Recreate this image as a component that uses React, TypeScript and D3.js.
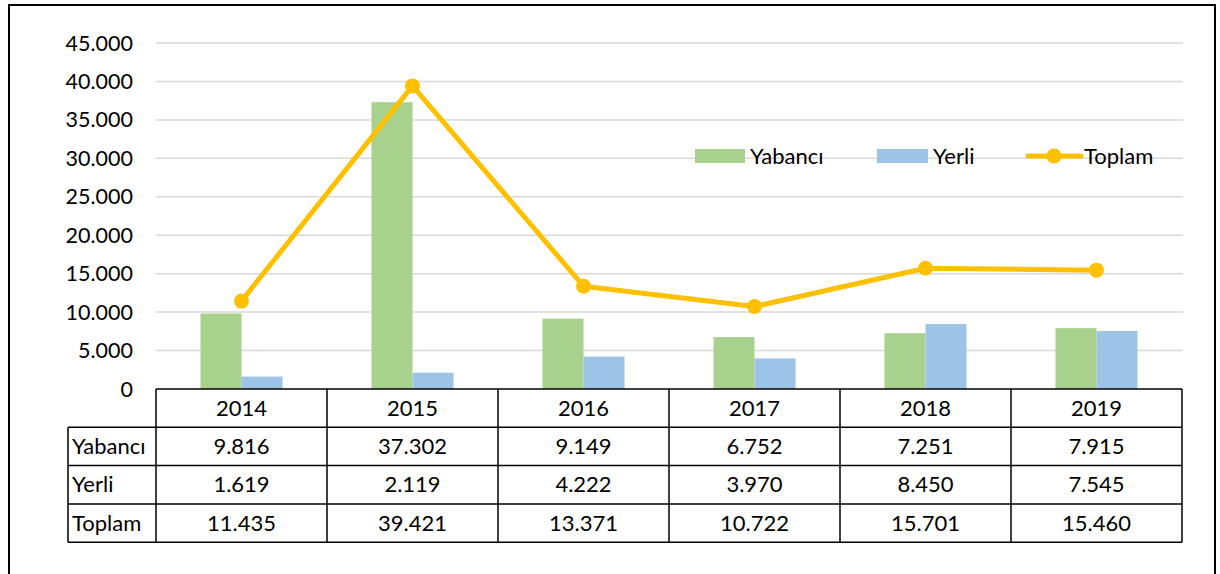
import { useEffect, useRef } from "react";
import * as d3 from "d3";

const YEARS = ["2014", "2015", "2016", "2017", "2018", "2019"];
const YABANCI = [9816, 37302, 9149, 6752, 7251, 7915];
const YERLI = [1619, 2119, 4222, 3970, 8450, 7545];
const TOPLAM = [11435, 39421, 13371, 10722, 15701, 15460];
const Y_TICKS = [0, 5000, 10000, 15000, 20000, 25000, 30000, 35000, 40000, 45000];

const COLORS = { Yabancı: "#A9D18E", Yerli: "#9DC3E6", Toplam: "#FFC000" };
const FONT = "Lato, 'Open Sans', sans-serif";
const FS = 22;

const trLocale = d3.formatLocale({ decimal: ",", thousands: ".", grouping: [3], currency: ["", ""] });
const fmt = trLocale.format(",d");

export default function App() {
  const ref = useRef<SVGSVGElement>(null);

  useEffect(() => {
    const svg = d3.select(ref.current);
    svg.selectAll("*").remove();

    const W = 1220, H = 574;
    const left = 156, right = 1182, top = 43, base = 389;
    const rowH = 38.3, labelLeft = 68;

    svg.attr("width", W).attr("height", H).style("font-family", FONT);

    // outer frame
    svg.append("rect")
      .attr("x", 9).attr("y", 5).attr("width", 1206).attr("height", 600)
      .attr("fill", "none").attr("stroke", "#000").attr("stroke-width", 2);

    const x = d3.scaleBand().domain(YEARS).range([left, right]).paddingInner(0).paddingOuter(0);
    const xs = d3.scaleBand().domain(["Yabancı", "Yerli"]).range([0, x.bandwidth()]).paddingInner(0).paddingOuter(1.085);
    const y = d3.scaleLinear().domain([0, 45000]).range([base, top]);

    // gridlines
    svg.append("g").selectAll("line")
      .data(Y_TICKS.filter(d => d > 0))
      .join("line")
      .attr("x1", left).attr("x2", right + 1)
      .attr("y1", d => y(d)).attr("y2", d => y(d))
      .attr("stroke", "#d9d9d9").attr("stroke-width", 1.5);

    // y labels
    svg.append("g").selectAll("text")
      .data(Y_TICKS)
      .join("text")
      .attr("x", 133).attr("y", d => y(d))
      .attr("dy", "0.35em")
      .attr("text-anchor", "end")
      .attr("font-size", FS - 0.5).attr("fill", "#000")
      .text(d => fmt(d));

    // bars
    const series = [
      { key: "Yabancı", values: YABANCI },
      { key: "Yerli", values: YERLI },
    ];
    series.forEach(s => {
      svg.append("g").selectAll("rect")
        .data(s.values)
        .join("rect")
        .attr("x", (_, i) => (x(YEARS[i]) ?? 0) + (xs(s.key) ?? 0))
        .attr("width", xs.bandwidth())
        .attr("y", d => y(d))
        .attr("height", d => base - y(d))
        .attr("fill", COLORS[s.key as "Yabancı" | "Yerli"]);
    });

    // line
    const cx = (i: number) => (x(YEARS[i]) ?? 0) + x.bandwidth() / 2;
    const line = d3.line<number>().x((_, i) => cx(i)).y(d => y(d));
    svg.append("path")
      .datum(TOPLAM)
      .attr("d", line)
      .attr("fill", "none")
      .attr("stroke", COLORS.Toplam)
      .attr("stroke-width", 5)
      .attr("stroke-linejoin", "round");
    svg.append("g").selectAll("circle")
      .data(TOPLAM)
      .join("circle")
      .attr("cx", (_, i) => cx(i)).attr("cy", d => y(d))
      .attr("r", 7.5).attr("fill", COLORS.Toplam);

    // legend
    const lg = svg.append("g").attr("font-size", FS);
    lg.append("rect").attr("x", 695).attr("y", 149).attr("width", 50).attr("height", 14).attr("fill", COLORS.Yabancı);
    lg.append("text").attr("x", 750).attr("y", 156).attr("dy", "0.35em").text("Yabancı");
    lg.append("rect").attr("x", 877).attr("y", 149).attr("width", 51).attr("height", 14).attr("fill", COLORS.Yerli);
    lg.append("text").attr("x", 933).attr("y", 156).attr("dy", "0.35em").text("Yerli");
    lg.append("line").attr("x1", 1028).attr("x2", 1081).attr("y1", 156).attr("y2", 156)
      .attr("stroke", COLORS.Toplam).attr("stroke-width", 5).attr("stroke-linecap", "round");
    lg.append("circle").attr("cx", 1054).attr("cy", 156).attr("r", 7.5).attr("fill", COLORS.Toplam);
    lg.append("text").attr("x", 1084).attr("y", 156).attr("dy", "0.35em").text("Toplam");

    // data table
    const rows = [
      { label: "Yabancı", values: YABANCI },
      { label: "Yerli", values: YERLI },
      { label: "Toplam", values: TOPLAM },
    ];
    const t = svg.append("g").attr("font-size", FS);
    const stroke = (sel: d3.Selection<SVGLineElement, unknown, null, undefined>) =>
      sel.attr("stroke", "#000").attr("stroke-width", 1.5);

    const bottom = base + rowH * (rows.length + 1);
    // horizontal lines
    t.append("line").attr("x1", left).attr("x2", right).attr("y1", base).attr("y2", base).call(stroke);
    d3.range(1, rows.length + 2).forEach(r => {
      t.append("line").attr("x1", labelLeft).attr("x2", right)
        .attr("y1", base + r * rowH).attr("y2", base + r * rowH).call(stroke);
    });
    // vertical lines
    t.append("line").attr("x1", labelLeft).attr("x2", labelLeft).attr("y1", base + rowH).attr("y2", bottom).call(stroke);
    YEARS.forEach(yr => {
      const x0 = x(yr) ?? 0;
      t.append("line").attr("x1", x0).attr("x2", x0).attr("y1", base).attr("y2", bottom).call(stroke);
    });
    t.append("line").attr("x1", right).attr("x2", right).attr("y1", base).attr("y2", bottom).call(stroke);

    // header
    t.selectAll("text.yr")
      .data(YEARS)
      .join("text")
      .attr("class", "yr")
      .attr("x", d => (x(d) ?? 0) + x.bandwidth() / 2)
      .attr("y", base + rowH / 2)
      .attr("dy", "0.35em")
      .attr("text-anchor", "middle")
      .text(d => d);

    rows.forEach((row, r) => {
      const yc = base + rowH * (r + 1) + rowH / 2;
      t.append("text").attr("x", labelLeft + 4).attr("y", yc).attr("dy", "0.35em").text(row.label);
      row.values.forEach((v, i) => {
        t.append("text")
          .attr("x", cx(i)).attr("y", yc).attr("dy", "0.35em")
          .attr("text-anchor", "middle")
          .text(fmt(v));
      });
    });
  }, []);

  return (
    <div style={{ position: "absolute", left: 0, top: 0 }}>
      <svg ref={ref} style={{ display: "block" }} />
    </div>
  );
}
